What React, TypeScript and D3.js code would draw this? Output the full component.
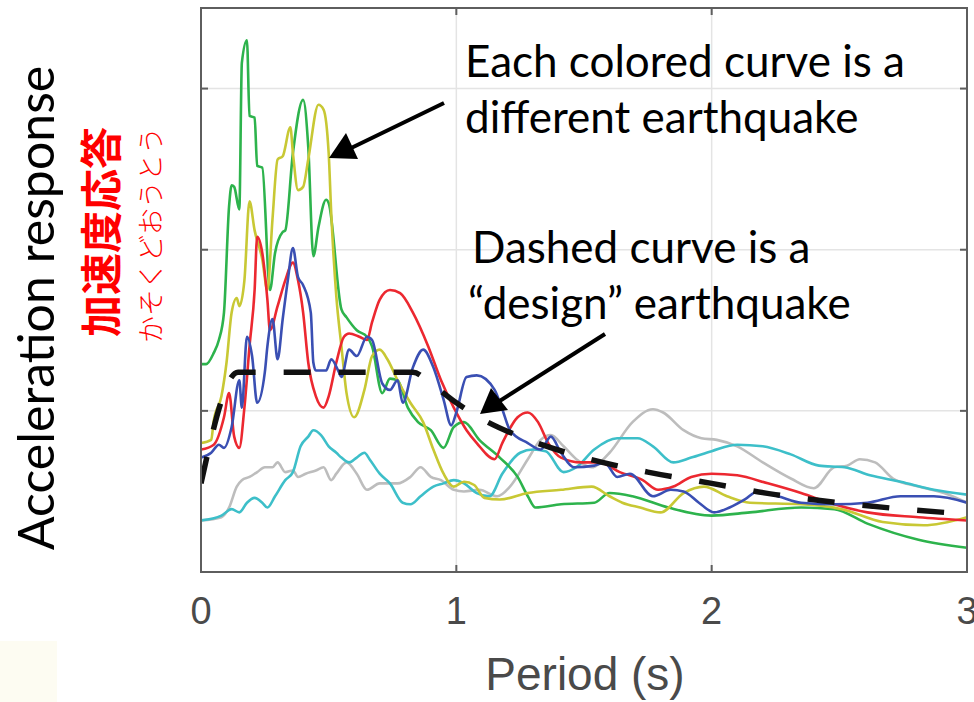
import React from "react";
import * as d3 from "d3";

// spectral acceleration curves: [period (s), response]
const greenQuake: [number, number][] = [
  [0, 1.29], [0.02, 1.29], [0.05, 1.36], [0.07, 1.44], [0.09, 1.61], [0.11, 2.27], [0.12, 2.4], [0.13, 2.39],
  [0.15, 2.25], [0.16, 3.16], [0.18, 3.3], [0.19, 2.83], [0.21, 2.82], [0.22, 2.52], [0.24, 2.51], [0.27, 1.75],
  [0.29, 1.98], [0.32, 2.11], [0.33, 2.12], [0.36, 2.6], [0.4, 2.93], [0.42, 2.64], [0.44, 1.96], [0.46, 2.14],
  [0.49, 2.31], [0.5, 2.29], [0.55, 1.63], [0.57, 1.58], [0.61, 1.5], [0.65, 1.46], [0.67, 1.4], [0.71, 1.11],
  [0.74, 1.2], [0.77, 1.19], [0.81, 1.02], [0.85, 0.93], [0.9, 0.88], [0.95, 0.77], [0.99, 0.9], [1.03, 0.93],
  [1.09, 0.82], [1.17, 0.71], [1.24, 0.59], [1.28, 0.47], [1.31, 0.4], [1.41, 0.42], [1.54, 0.43], [1.6, 0.49],
  [1.69, 0.47], [1.83, 0.4], [2.0, 0.35], [2.15, 0.37], [2.35, 0.4], [2.48, 0.39], [2.61, 0.3], [2.81, 0.2], [3.0, 0.15],
];

const yellowQuake: [number, number][] = [
  [0, 0.8], [0.04, 0.82], [0.05, 0.94], [0.08, 1.09], [0.1, 1.3], [0.12, 1.61], [0.14, 1.7], [0.15, 1.65],
  [0.17, 1.81], [0.19, 2.3], [0.21, 2.12], [0.24, 1.94], [0.26, 1.75], [0.28, 2.19], [0.3, 2.56], [0.32, 2.58],
  [0.35, 2.76], [0.36, 2.6], [0.38, 2.37], [0.4, 2.39], [0.42, 2.56], [0.46, 2.9], [0.48, 2.87], [0.5, 2.6],
  [0.51, 2.23], [0.53, 1.71], [0.55, 1.4], [0.57, 1.11], [0.6, 0.96], [0.64, 1.13], [0.67, 1.34], [0.7, 1.38],
  [0.73, 1.32], [0.77, 1.19], [0.82, 1.05], [0.87, 0.93], [0.91, 0.76], [0.95, 0.61], [0.99, 0.53], [1.03, 0.56],
  [1.07, 0.54], [1.11, 0.46], [1.17, 0.45], [1.28, 0.49], [1.41, 0.51], [1.53, 0.53], [1.6, 0.47], [1.65, 0.43],
  [1.72, 0.4], [1.8, 0.37], [1.89, 0.49], [1.97, 0.53], [2.06, 0.47], [2.15, 0.43], [2.35, 0.42], [2.51, 0.39],
  [2.67, 0.31], [2.83, 0.29], [3.0, 0.34],
];

const redQuake: [number, number][] = [
  [0, 0.76], [0.05, 0.79], [0.09, 0.96], [0.11, 1.11], [0.13, 0.84], [0.15, 0.77], [0.17, 1.02], [0.19, 1.4],
  [0.21, 1.75], [0.22, 2.08], [0.24, 1.98], [0.26, 1.69], [0.27, 1.5], [0.3, 1.65], [0.33, 1.81], [0.36, 1.92],
  [0.38, 1.81], [0.4, 1.61], [0.42, 1.3], [0.45, 1.09], [0.48, 1.02], [0.5, 1.09], [0.53, 1.3], [0.56, 1.46],
  [0.58, 1.48], [0.62, 1.46], [0.65, 1.44], [0.67, 1.55], [0.7, 1.69], [0.74, 1.75], [0.78, 1.73], [0.83, 1.61],
  [0.89, 1.4], [0.94, 1.19], [0.99, 1.02], [1.04, 0.88], [1.08, 0.8], [1.15, 0.7], [1.18, 0.8], [1.24, 0.96],
  [1.28, 0.99], [1.32, 0.93], [1.36, 0.8], [1.41, 0.71], [1.49, 0.68], [1.56, 0.68], [1.64, 0.62], [1.73, 0.57],
  [1.79, 0.51], [1.85, 0.53], [1.92, 0.59], [2.0, 0.61], [2.1, 0.6], [2.22, 0.55], [2.35, 0.49], [2.48, 0.42],
  [2.61, 0.37], [2.81, 0.34], [3.0, 0.32],
];

const blueQuake: [number, number][] = [
  [0, 0.71], [0.04, 0.74], [0.07, 0.79], [0.09, 0.77], [0.12, 0.9], [0.15, 1.19], [0.16, 1.02], [0.18, 1.46],
  [0.2, 1.34], [0.22, 1.05], [0.25, 1.24], [0.26, 1.4], [0.28, 1.57], [0.3, 1.32], [0.32, 1.57], [0.34, 1.81],
  [0.36, 2.01], [0.38, 1.83], [0.4, 1.78], [0.43, 1.61], [0.44, 1.3], [0.45, 1.25], [0.49, 1.25], [0.51, 1.32],
  [0.54, 1.24], [0.55, 1.21], [0.58, 1.38], [0.61, 1.34], [0.65, 1.46], [0.67, 1.44], [0.71, 1.17], [0.74, 1.13],
  [0.77, 1.19], [0.79, 1.05], [0.83, 1.27], [0.87, 1.38], [0.91, 1.27], [0.95, 1.07], [0.98, 0.91], [1.0, 0.99],
  [1.04, 1.21], [1.08, 1.22], [1.15, 1.13], [1.18, 1.01], [1.21, 0.88], [1.28, 0.8], [1.33, 0.76], [1.37, 0.84],
  [1.41, 0.74], [1.46, 0.65], [1.54, 0.66], [1.58, 0.68], [1.63, 0.59], [1.68, 0.61], [1.77, 0.47], [1.84, 0.51],
  [1.89, 0.5], [1.95, 0.43], [2.01, 0.37], [2.07, 0.4], [2.13, 0.45], [2.18, 0.5], [2.26, 0.47], [2.35, 0.43],
  [2.48, 0.42], [2.61, 0.43], [2.74, 0.47], [2.87, 0.47], [3.0, 0.43],
];

const cyanQuake: [number, number][] = [
  [0, 0.32], [0.08, 0.35], [0.12, 0.39], [0.15, 0.37], [0.18, 0.43], [0.21, 0.46], [0.24, 0.43], [0.26, 0.4],
  [0.29, 0.47], [0.33, 0.57], [0.36, 0.62], [0.39, 0.78], [0.42, 0.84], [0.44, 0.88], [0.47, 0.85], [0.5, 0.78],
  [0.53, 0.74], [0.55, 0.71], [0.58, 0.68], [0.61, 0.71], [0.64, 0.74], [0.66, 0.7], [0.7, 0.61], [0.74, 0.55],
  [0.79, 0.43], [0.82, 0.42], [0.86, 0.47], [0.91, 0.53], [0.95, 0.55], [0.99, 0.57], [1.03, 0.55], [1.08, 0.49],
  [1.13, 0.47], [1.18, 0.61], [1.25, 0.74], [1.3, 0.76], [1.35, 0.75], [1.42, 0.62], [1.47, 0.65], [1.54, 0.76],
  [1.63, 0.83], [1.71, 0.83], [1.77, 0.78], [1.85, 0.68], [1.92, 0.71], [2.0, 0.75], [2.1, 0.79], [2.2, 0.78],
  [2.31, 0.73], [2.42, 0.66], [2.52, 0.65], [2.62, 0.6], [2.74, 0.56], [2.87, 0.51], [3.0, 0.48],
];

const grayQuake: [number, number][] = [
  [0, 0.32], [0.08, 0.34], [0.11, 0.4], [0.14, 0.53], [0.16, 0.57], [0.19, 0.59], [0.22, 0.62], [0.25, 0.65],
  [0.28, 0.65], [0.3, 0.68], [0.33, 0.62], [0.36, 0.63], [0.38, 0.59], [0.41, 0.61], [0.45, 0.63], [0.48, 0.65],
  [0.51, 0.57], [0.53, 0.61], [0.57, 0.68], [0.61, 0.61], [0.65, 0.51], [0.7, 0.55], [0.77, 0.55], [0.82, 0.59],
  [0.86, 0.65], [0.9, 0.59], [0.94, 0.57], [0.99, 0.51], [1.03, 0.5], [1.09, 0.51], [1.16, 0.47], [1.21, 0.53],
  [1.28, 0.7], [1.33, 0.82], [1.37, 0.85], [1.42, 0.78], [1.47, 0.7], [1.53, 0.65], [1.6, 0.74], [1.69, 0.93],
  [1.77, 1.01], [1.81, 0.99], [1.89, 0.88], [1.96, 0.83], [2.02, 0.82], [2.1, 0.78], [2.2, 0.68], [2.31, 0.58],
  [2.4, 0.52], [2.48, 0.65], [2.53, 0.66], [2.58, 0.7], [2.64, 0.68], [2.71, 0.58], [2.81, 0.53], [2.91, 0.49],
  [3.0, 0.43],
];

// the "design" earthquake spectrum (dashed)
const designQuake: [number, number][] = [
  [0, 0.55], [0.145, 1.24], [0.83, 1.24], [0.9, 1.17], [1.0, 1.05], [1.1, 0.95], [1.25, 0.84], [1.5, 0.71],
  [1.75, 0.62], [2.0, 0.55], [2.25, 0.48], [2.5, 0.43], [2.75, 0.39], [3.0, 0.36],
];

const xTicks = [0, 1, 2, 3];
const yTicks = [1, 2, 3];

const series = [
  { name: "gray", data: grayQuake, color: "#bdbdbd" },
  { name: "cyan", data: cyanQuake, color: "#3dbfc9" },
  { name: "green", data: greenQuake, color: "#2db34c" },
  { name: "yellow", data: yellowQuake, color: "#c8c834" },
  { name: "red", data: redQuake, color: "#ec2830" },
  { name: "blue", data: blueQuake, color: "#3a4fb3" },
];

const W = 974, H = 702;
const margin = { left: 201, right: 7, top: 8, bottom: 130 };

export default function App() {
  const x = d3.scaleLinear().domain([0, 3]).range([margin.left, W - margin.right]);
  const y = d3.scaleLinear().domain([0, 3.5]).range([H - margin.bottom, margin.top]);

  const line = d3.line<[number, number]>()
    .x(d => x(d[0]))
    .y(d => y(d[1]))
    .curve(d3.curveMonotoneX);

  const [x0, x1] = x.range();
  const [y0, y1] = y.range();
  const axisColor = "#5e5e5e";

  return (
    <svg width={W} height={H} style={{ position: "absolute", left: 0, top: 0, background: "#fff" }}>
      <defs>
        <clipPath id="plot">
          <rect x={x0} y={y1} width={x1 - x0} height={y0 - y1} />
        </clipPath>
      </defs>
      <rect x={0} y={641} width={57} height={61} fill="#fdfcf2" />

      {/* grid */}
      {xTicks.slice(1, -1).map(t => (
        <line key={"gx" + t} x1={x(t)} x2={x(t)} y1={y1} y2={y0} stroke="#e4e4e4" strokeWidth={1.5} />
      ))}
      {yTicks.map(t => (
        <line key={"gy" + t} x1={x0} x2={x1} y1={y(t)} y2={y(t)} stroke="#e4e4e4" strokeWidth={1.5} />
      ))}

      {/* curves */}
      <g clipPath="url(#plot)" fill="none" strokeLinejoin="round">
        {series.map(s => (
          <path key={s.name} d={line(s.data) || ""} stroke={s.color} strokeWidth={2.6} />
        ))}
        <path d={line(designQuake) || ""} stroke="#111" strokeWidth={5.5} strokeDasharray="27 28" />
      </g>

      {/* frame and ticks */}
      <rect x={x0} y={y1} width={x1 - x0} height={y0 - y1} fill="none" stroke={axisColor} strokeWidth={2} />
      {yTicks.map(t => (
        <g key={"ty" + t}>
          <line x1={x0} x2={x0 + 7} y1={y(t)} y2={y(t)} stroke={axisColor} strokeWidth={2} />
          <line x1={x1} x2={x1 - 7} y1={y(t)} y2={y(t)} stroke={axisColor} strokeWidth={2} />
        </g>
      ))}
      {xTicks.slice(1, -1).map(t => (
        <g key={"tx" + t}>
          <line x1={x(t)} x2={x(t)} y1={y0} y2={y0 - 7} stroke={axisColor} strokeWidth={2} />
          <line x1={x(t)} x2={x(t)} y1={y1} y2={y1 + 7} stroke={axisColor} strokeWidth={2} />
        </g>
      ))}
      {xTicks.map(t => (
        <text key={"lx" + t} x={x(t)} y={624} textAnchor="middle" fontFamily="Liberation Sans, Arial, sans-serif"
          fontSize={38} fill="#4a4a4a">{t}</text>
      ))}
      <text x={585} y={690} textAnchor="middle" fontFamily="Liberation Sans, Arial, sans-serif" fontSize={46}
        fill="#4a4a4a">Period (s)</text>

      {/* y label */}
      <text transform="translate(54,308) rotate(-90)" textAnchor="middle" fontFamily="Lato, sans-serif"
        fontSize={50} fill="#000">Acceleration response</text>
      <text transform="translate(117,232) rotate(-90)" textAnchor="middle" fontFamily="Noto Sans CJK JP, sans-serif"
        fontWeight="bold" fontSize={42} fill="#ff0000">加速度応答</text>
      <text transform="translate(161,235) rotate(-90)" textAnchor="middle" fontFamily="Noto Sans CJK JP, sans-serif"
        fontWeight={300} fontSize={27} fill="#ff0000">かそくどおうとう</text>

      {/* annotations */}
      <g fontFamily="Lato, sans-serif" fontSize={44} fill="#000">
        <text x={465} y={77}>Each colored curve is a</text>
        <text x={465} y={133}>different earthquake</text>
        <text x={472} y={263}>Dashed curve is a</text>
        <text x={468} y={319}>“design” earthquake</text>
      </g>
      <g stroke="#000" strokeWidth={4}>
        <line x1={444} y1={103} x2={345} y2={151} />
        <line x1={605} y1={334} x2={495} y2={404} />
      </g>
      <polygon points="329,158 346,133 358,159" fill="#000" />
      <polygon points="480,414 491,388 508,410" fill="#000" />
    </svg>
  );
}
